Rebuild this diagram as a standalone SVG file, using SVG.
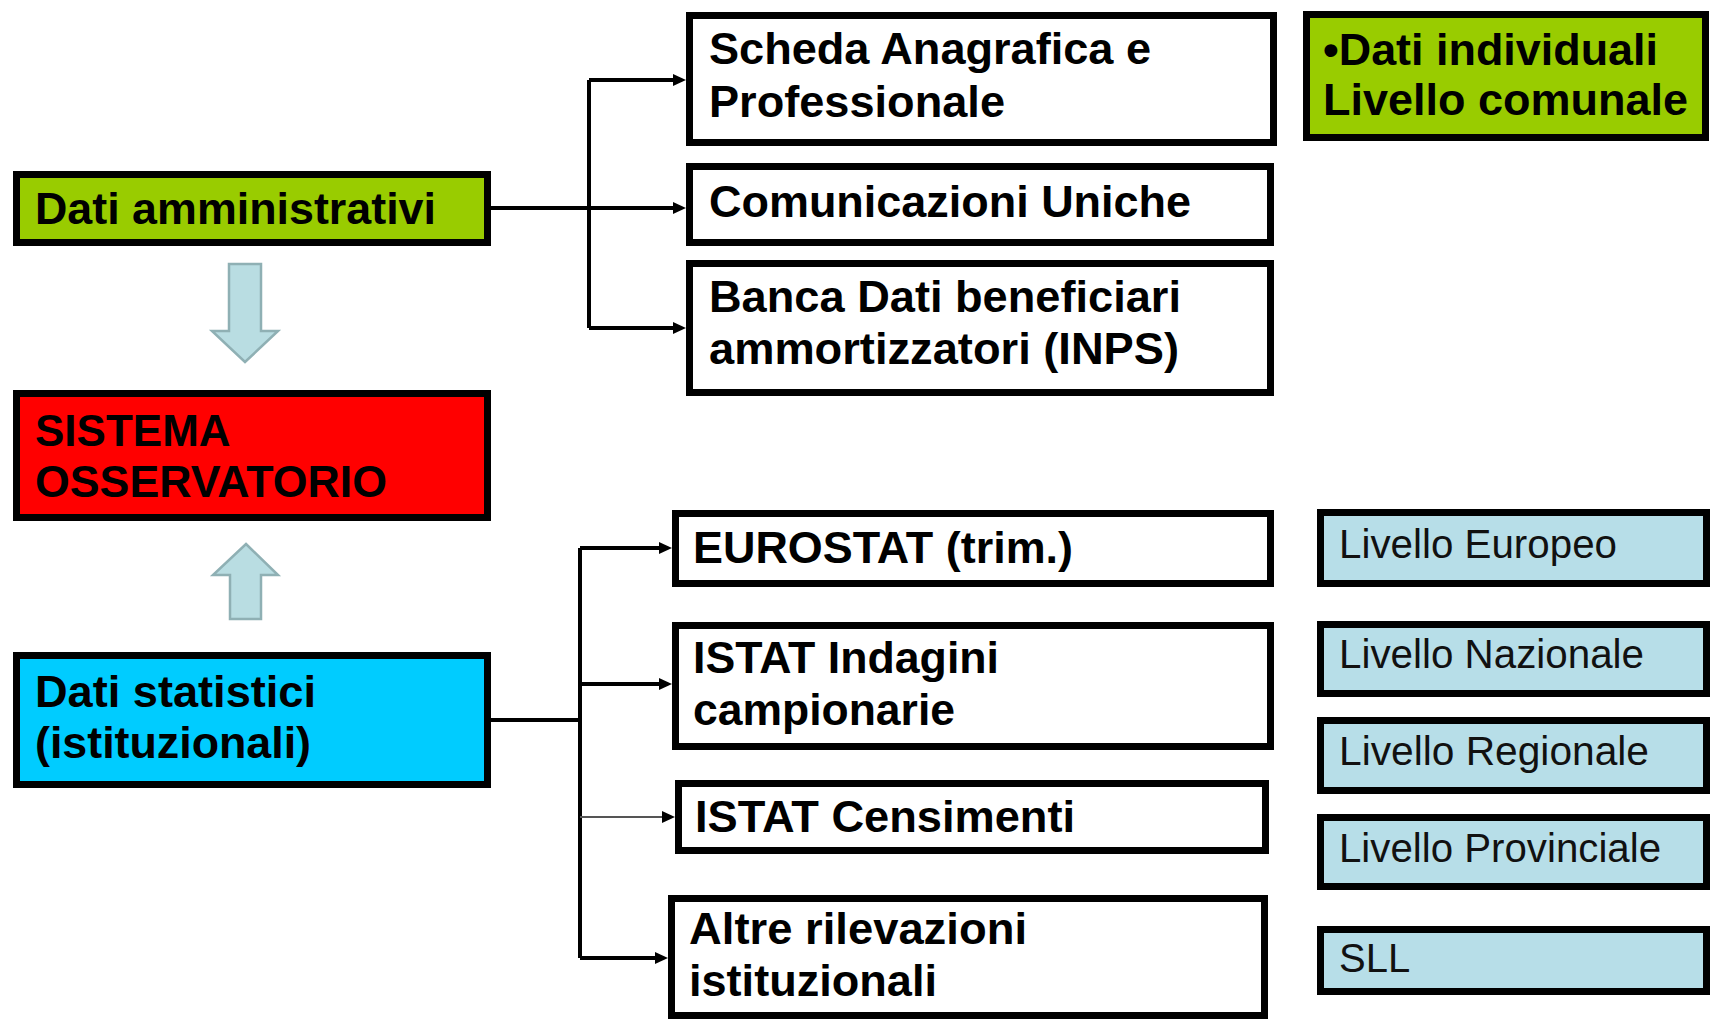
<svg xmlns="http://www.w3.org/2000/svg" width="1710" height="1020" viewBox="0 0 1710 1020">
<style>
.box{stroke:#000;stroke-width:7}
.w{fill:#fff}
.g{fill:#99cc00}
.r{fill:#ff0000}
.c{fill:#00ccff}
.lb{fill:#b7dee8}
.t{font-family:"Liberation Sans",Arial,sans-serif;font-weight:bold;font-size:44px;fill:#000}
.tr{font-family:"Liberation Sans",Arial,sans-serif;font-size:40px;fill:#111}
.ln{fill:none;stroke:#000;stroke-width:4}
.thin{fill:none;stroke:#555;stroke-width:2}
.blk{fill:#b9dde2;stroke:#8fb0b4;stroke-width:2.5}
</style>
<defs>
<marker id="ah" markerUnits="userSpaceOnUse" markerWidth="14" markerHeight="12" refX="7" refY="6" orient="auto">
<path d="M0,0 L13,6 L0,12 z" fill="#000"/>
</marker>
</defs>
<rect width="1710" height="1020" fill="#fff"/>

<g id="connectors">
<path class="ln" d="M491,208 H589"/>
<path class="ln" d="M589,80 V328"/>
<path class="ln" d="M589,80 H680" marker-end="url(#ah)"/>
<path class="ln" d="M589,208 H680" marker-end="url(#ah)"/>
<path class="ln" d="M589,328 H680" marker-end="url(#ah)"/>
<path class="ln" d="M491,720 H580"/>
<path class="ln" d="M580,548 V958"/>
<path class="ln" d="M580,548 H666" marker-end="url(#ah)"/>
<path class="ln" d="M580,684 H666" marker-end="url(#ah)"/>
<path class="thin" d="M580,817 H669" marker-end="url(#ah)"/>
<path class="ln" d="M580,958 H662" marker-end="url(#ah)"/>
<polygon id="arrow-down" class="blk" points="229,264 261,264 261,331 278,331 245,362 212,331 229,331"/>
<polygon id="arrow-up" class="blk" points="246,544 278,575 261,575 261,619 230,619 230,575 213,575"/>
</g>

<g id="dati-amministrativi">
<rect class="box g" x="16.5" y="174.5" width="471" height="68"/>
<text class="t" x="35" y="224" textLength="401" lengthAdjust="spacingAndGlyphs">Dati amministrativi</text>
</g>
<g id="sistema-osservatorio">
<rect class="box r" x="16.5" y="393.5" width="471" height="124"/>
<text class="t" x="35" y="446">SISTEMA</text>
<text class="t" x="35" y="497" textLength="352" lengthAdjust="spacingAndGlyphs">OSSERVATORIO</text>
</g>
<g id="dati-statistici">
<rect class="box c" x="16.5" y="655.5" width="471" height="129"/>
<text class="t" x="35" y="707" textLength="281" lengthAdjust="spacingAndGlyphs">Dati statistici</text>
<text class="t" x="35" y="758" textLength="276" lengthAdjust="spacingAndGlyphs">(istituzionali)</text>
</g>

<g id="scheda">
<rect class="box w" x="689.5" y="15.5" width="584" height="127"/>
<text class="t" x="709" y="64" textLength="442" lengthAdjust="spacingAndGlyphs">Scheda Anagrafica e</text>
<text class="t" x="709" y="117" textLength="296" lengthAdjust="spacingAndGlyphs">Professionale</text>
</g>
<g id="comunicazioni">
<rect class="box w" x="689.5" y="166.5" width="581" height="76"/>
<text class="t" x="709" y="217" textLength="482" lengthAdjust="spacingAndGlyphs">Comunicazioni  Uniche</text>
</g>
<g id="banca-dati">
<rect class="box w" x="689.5" y="263.5" width="581" height="129"/>
<text class="t" x="709" y="312" textLength="472" lengthAdjust="spacingAndGlyphs">Banca Dati beneficiari</text>
<text class="t" x="709" y="364" textLength="470" lengthAdjust="spacingAndGlyphs">ammortizzatori (INPS)</text>
</g>

<g id="eurostat">
<rect class="box w" x="675.5" y="513.5" width="595" height="70"/>
<text class="t" x="693" y="563" textLength="380" lengthAdjust="spacingAndGlyphs">EUROSTAT (trim.)</text>
</g>
<g id="istat-indagini">
<rect class="box w" x="675.5" y="625.5" width="595" height="121"/>
<text class="t" x="693" y="673" textLength="306" lengthAdjust="spacingAndGlyphs">ISTAT Indagini</text>
<text class="t" x="693" y="725" textLength="262" lengthAdjust="spacingAndGlyphs">campionarie</text>
</g>
<g id="istat-censimenti">
<rect class="box w" x="678.5" y="783.5" width="587" height="67"/>
<text class="t" x="695" y="832" textLength="380" lengthAdjust="spacingAndGlyphs">ISTAT  Censimenti</text>
</g>
<g id="altre-rilevazioni">
<rect class="box w" x="671.5" y="898.5" width="593" height="117"/>
<text class="t" x="689" y="944" textLength="338" lengthAdjust="spacingAndGlyphs">Altre rilevazioni</text>
<text class="t" x="689" y="996" textLength="248" lengthAdjust="spacingAndGlyphs">istituzionali</text>
</g>

<g id="dati-individuali">
<rect class="box g" x="1306.5" y="14.5" width="399" height="123"/>
<text class="t" x="1323" y="65" textLength="335" lengthAdjust="spacingAndGlyphs">•Dati individuali</text>
<text class="t" x="1323" y="115" textLength="365" lengthAdjust="spacingAndGlyphs">Livello comunale</text>
</g>
<g id="livello-europeo">
<rect class="box lb" x="1320.5" y="512.5" width="386" height="71"/>
<text class="tr" x="1339" y="558" textLength="278" lengthAdjust="spacingAndGlyphs">Livello Europeo</text>
</g>
<g id="livello-nazionale">
<rect class="box lb" x="1320.5" y="624.5" width="386" height="69"/>
<text class="tr" x="1339" y="668" textLength="305" lengthAdjust="spacingAndGlyphs">Livello Nazionale</text>
</g>
<g id="livello-regionale">
<rect class="box lb" x="1320.5" y="720.5" width="386" height="70"/>
<text class="tr" x="1339" y="765" textLength="310" lengthAdjust="spacingAndGlyphs">Livello Regionale</text>
</g>
<g id="livello-provinciale">
<rect class="box lb" x="1320.5" y="817.5" width="386" height="69"/>
<text class="tr" x="1339" y="862" textLength="322" lengthAdjust="spacingAndGlyphs">Livello Provinciale</text>
</g>
<g id="sll">
<rect class="box lb" x="1320.5" y="929.5" width="386" height="62"/>
<text class="tr" x="1339" y="972">SLL</text>
</g>
</svg>
